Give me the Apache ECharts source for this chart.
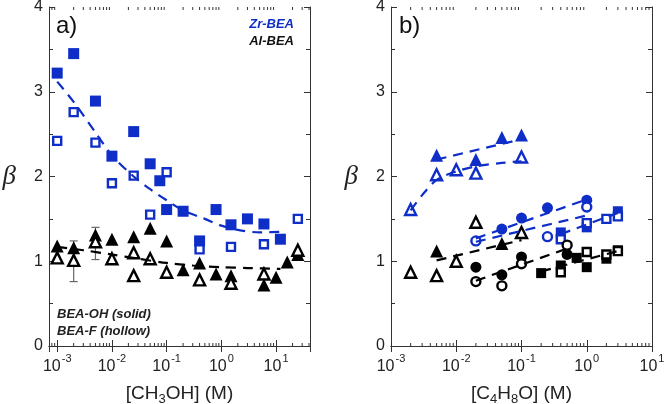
<!DOCTYPE html>
<html><head><meta charset="utf-8">
<script src="https://cdn.jsdelivr.net/npm/echarts@6/dist/echarts.min.js"></script>
<style>html,body{margin:0;padding:0;background:#fff}#c{width:664px;height:404px}</style>
</head><body><div id="c"></div>
<script>
// ---------- Panel a) : [CH3OH] ----------
const zrA_solid_x = [0.001,0.002,0.005,0.01,0.025,0.05,0.075,0.1,0.2,0.4,0.8,1.5,3,6,12];
const zrA_solid_y = [3.22,3.45,2.89,2.24,2.53,2.15,1.95,1.61,1.59,1.24,1.61,1.43,1.50,1.44,1.26];
const zrA_hollow_x = [0.001,0.002,0.005,0.01,0.025,0.05,0.1,0.4,1.5,6,25];
const zrA_hollow_y = [2.42,2.76,2.40,1.92,2.01,1.55,2.05,1.14,1.17,1.20,1.50];
const zrA_fit_x = [0.001,0.002,0.005,0.01,0.025,0.05,0.1,0.2,0.5,1,2,5,15];
const zrA_fit_y = [3.12,2.88,2.52,2.25,2.00,1.85,1.72,1.60,1.50,1.42,1.37,1.34,1.35];
const alA_solid_x = [0.001,0.002,0.005,0.01,0.025,0.05,0.1,0.2,0.4,0.8,1.5,6,10,16,25];
const alA_solid_y = [1.18,1.16,1.31,1.26,1.29,1.39,1.24,0.90,0.98,0.85,0.83,0.72,0.81,0.99,1.08];
const alA_hollow_x = [0.001,0.002,0.005,0.01,0.025,0.025,0.05,0.1,0.4,1.5,6,25];
const alA_hollow_y = [1.04,1.01,1.23,1.03,1.10,0.83,1.03,0.87,0.78,0.74,0.85,1.13];
const alA_err_x = [0.002,0.005];
const alA_err_lo = [0.76,1.02];
const alA_err_hi = [1.24,1.40];
const alA_fit_x = [0.001,0.003,0.01,0.03,0.1,0.3,1,3,12];
const alA_fit_y = [1.17,1.13,1.08,1.03,0.98,0.95,0.93,0.92,0.91];

// ---------- Panel b) : [C4H8O] ----------
const zrB_triS_x = [0.005,0.02,0.05,0.1];
const zrB_triS_y = [2.25,2.20,2.46,2.49];
const zrB_triH_x = [0.002,0.005,0.01,0.02,0.1];
const zrB_triH_y = [1.61,2.02,2.08,2.04,2.23];
const zrB_cirS_x = [0.05,0.1,0.25,1];
const zrB_cirS_y = [1.38,1.51,1.63,1.72];
const zrB_cirH_x = [0.02,0.25,1];
const zrB_cirH_y = [1.24,1.29,1.64];
const zrB_sqS_x = [0.4,1,3];
const zrB_sqS_y = [1.34,1.40,1.59];
const zrB_sqH_x = [0.4,1,2,3];
const zrB_sqH_y = [1.26,1.45,1.50,1.53];
const alB_triS_x = [0.005,0.05];
const alB_triS_y = [1.12,1.21];
const alB_triH_x = [0.002,0.005,0.01,0.02,0.1];
const alB_triH_y = [0.87,0.83,1.00,1.46,1.34];
const alB_cirS_x = [0.02,0.05,0.1,0.5];
const alB_cirS_y = [0.93,0.84,1.05,1.08];
const alB_cirH_x = [0.02,0.05,0.1,0.5];
const alB_cirH_y = [0.76,0.71,0.97,1.19];
const alB_sqS_x = [0.2,0.4,0.7,1,2,3];
const alB_sqS_y = [0.86,0.95,1.04,0.93,1.03,1.13];
const alB_sqH_x = [0.4,1,2,3];
const alB_sqH_y = [0.87,1.11,1.08,1.12];

const zrB_fitTriS_x = [0.005,0.1];            const zrB_fitTriS_y = [2.20,2.44];
const zrB_fitTriH_x = [0.002,0.003,0.005,0.01,0.02,0.05,0.1];
const zrB_fitTriH_y = [1.60,1.78,1.96,2.06,2.12,2.16,2.18];
const zrB_fitCirS_x = [0.02,1];               const zrB_fitCirS_y = [1.27,1.73];
const zrB_fitCirH_x = [0.02,1];               const zrB_fitCirH_y = [1.23,1.54];
const zrB_fitSq_x = [0.4,3];                  const zrB_fitSq_y = [1.32,1.57];
const alB_fitTri_x = [0.005,0.1];             const alB_fitTri_y = [1.01,1.25];
const alB_fitCir_x = [0.02,0.5];              const alB_fitCir_y = [0.77,1.15];
const alB_fitSq_x = [0.2,3];                  const alB_fitSq_y = [0.88,1.12];

// axis settings
const yTicks = [0,1,2,3,4];
const xRangeA = [0.000708, 41.7];
const xRangeB = [0.001, 10];
const decadesA = [-4,-3,-2,-1,0,1];
const decadesB = [-3,-2,-1,0];

const BLUE = '#0f2ec8';
const BLACK = '#000000';
const AXC = '#333333';
const FONT = 'Liberation Sans';

function zip(xs, ys){ return xs.map((x,i)=>[x, ys[i]]); }

function minorTickData(decades, range){
  const out = [];
  decades.forEach(d => { for (let m=2; m<=9; m++){ const v = m*Math.pow(10,d); if (v>range[0] && v<range[1]) out.push([v]); } });
  return out;
}

function expLabel(v){
  const e = Math.log10(v);
  const r = Math.round(e);
  if (Math.abs(e - r) > 0.01) return '';
  return '{b|10}{s|' + r + '}';
}

const tickRich = {
  b: {fontSize: 16, fontFamily: FONT, color: '#222', lineHeight: 22, verticalAlign: 'bottom'},
  s: {fontSize: 11, fontFamily: FONT, color: '#222', lineHeight: 12, verticalAlign: 'top', padding:[0,0,0,1]}
};

function xAxes(grid, range, name, pos){
  const bottom = pos === 'bottom';
  return {
    type: 'log', logBase: 10, gridIndex: grid, position: pos,
    min: range[0], max: range[1],
    axisLine: {show: true, lineStyle: {color: AXC, width: 1}},
    axisTick: {show: true, inside: true, length: 6, lineStyle: {color: AXC}},
    splitLine: {show: false},
    axisLabel: bottom ? {show: true, formatter: expLabel, rich: tickRich, margin: 7, showMinLabel: range[0]===0.001, showMaxLabel: range[1]===10} : {show: false},
    name: bottom ? name : '',
    nameLocation: 'middle', nameGap: 36,
    nameTextStyle: {fontSize: 19, fontFamily: FONT, color: '#222',
      rich: {n: {fontSize: 19, fontFamily: FONT, color:'#222', lineHeight: 24},
             sub: {fontSize: 13, fontFamily: FONT, color:'#222', lineHeight: 12, verticalAlign:'bottom'}}}
  };
}

function yAxes(grid, pos){
  const left = pos === 'left';
  return {
    type: 'value', gridIndex: grid, position: pos, min: yTicks[0], max: yTicks[yTicks.length-1], interval: 1,
    axisLine: {show: true, lineStyle: {color: AXC, width: 1}},
    axisTick: {show: true, inside: true, length: 6, lineStyle: {color: AXC}},
    minorTick: {show: true, splitNumber: 2, length: 4, lineStyle: {color: AXC}},
    splitLine: {show: false},
    axisLabel: left ? {show: true, fontSize: 16, fontFamily: FONT, color: '#222', margin: 6} : {show: false},
    name: left ? 'β' : '', nameLocation: 'middle', nameRotate: 0, nameGap: 33,
    nameTextStyle: {fontSize: 27, fontStyle: 'italic', fontFamily: 'Liberation Serif', color: '#222'}
  };
}

function sc(xi, xs, ys, symbol, size, color, hollow, rotate){
  return {
    type: 'scatter', xAxisIndex: xi, yAxisIndex: xi, data: zip(xs, ys),
    symbol: symbol, symbolSize: size, symbolRotate: rotate || 0,
    itemStyle: hollow ? {color: '#ffffff', borderColor: color, borderWidth: 2.4, opacity: 1}
                      : {color: color, borderWidth: 0, opacity: 1},
    z: hollow ? 4 : 3, silent: true, animation: false
  };
}

function fit(xi, xs, ys, color, smooth){
  return {
    type: 'line', xAxisIndex: xi, yAxisIndex: xi, data: zip(xs, ys),
    showSymbol: false, symbol: 'none', smooth: smooth ? 0.3 : false,
    lineStyle: {color: color, width: 2.2, type: [10, 7]}, z: 5, silent: true, animation: false
  };
}

function minorSeries(xi, decades, range){
  return {
    type: 'custom', xAxisIndex: xi, yAxisIndex: xi, data: minorTickData(decades, range),
    silent: true, animation: false, clip: false, z: 10,
    renderItem: function(params, api){
      const v = api.value(0);
      const pb = api.coord([v, yTicks[0]]);
      const pt = api.coord([v, yTicks[yTicks.length-1]]);
      const st = {stroke: AXC, lineWidth: 1};
      return {type: 'group', children: [
        {type: 'line', shape: {x1: pb[0], y1: pb[1], x2: pb[0], y2: pb[1]-3}, style: st},
        {type: 'line', shape: {x1: pt[0], y1: pt[1], x2: pt[0], y2: pt[1]+3}, style: st}
      ]};
    }
  };
}

function errSeries(xi, xs, lo, hi){
  return {
    type: 'custom', xAxisIndex: xi, yAxisIndex: xi, data: xs.map((x,i)=>[x, lo[i], hi[i]]),
    silent: true, animation: false, z: 2,
    renderItem: function(params, api){
      const a = api.coord([api.value(0), api.value(1)]);
      const b = api.coord([api.value(0), api.value(2)]);
      const st = {stroke: '#666', lineWidth: 1.2};
      return {type: 'group', children: [
        {type: 'line', shape: {x1: a[0], y1: a[1], x2: b[0], y2: b[1]}, style: st},
        {type: 'line', shape: {x1: a[0]-4, y1: a[1], x2: a[0]+4, y2: a[1]}, style: st},
        {type: 'line', shape: {x1: b[0]-4, y1: b[1], x2: b[0]+4, y2: b[1]}, style: st}
      ]};
    }
  };
}

const chart = echarts.init(document.getElementById('c'), null, {renderer: 'canvas'});

chart.setOption({
  animation: false,
  backgroundColor: '#ffffff',
  grid: [
    {left: 49, top: 7, width: 261, height: 339, containLabel: false, outerBoundsMode: 'none'},
    {left: 391, top: 7, width: 261, height: 339, containLabel: false, outerBoundsMode: 'none'}
  ],
  xAxis: [
    xAxes(0, xRangeA, '{n|[CH}{sub|3}{n|OH] (M)}', 'bottom'),
    xAxes(1, xRangeB, '{n|[C}{sub|4}{n|H}{sub|8}{n|O] (M)}', 'bottom'),
    xAxes(0, xRangeA, '', 'top'),
    xAxes(1, xRangeB, '', 'top')
  ],
  yAxis: [
    yAxes(0, 'left'),
    yAxes(1, 'left'),
    yAxes(0, 'right'),
    yAxes(1, 'right')
  ],
  series: [
    minorSeries(0, decadesA, xRangeA),
    minorSeries(1, decadesB, xRangeB),
    errSeries(0, alA_err_x, alA_err_lo, alA_err_hi),
    // panel a
    sc(0, zrA_solid_x, zrA_solid_y, 'rect', 11, BLUE, false),
    sc(0, zrA_hollow_x, zrA_hollow_y, 'rect', 8, BLUE, true),
    sc(0, alA_solid_x, alA_solid_y, 'triangle', 13, BLACK, false),
    sc(0, alA_hollow_x, alA_hollow_y, 'triangle', 11, BLACK, true),
    fit(0, zrA_fit_x, zrA_fit_y, BLUE, true),
    fit(0, alA_fit_x, alA_fit_y, BLACK, true),
    // panel b
    sc(1, zrB_triS_x, zrB_triS_y, 'triangle', 13, BLUE, false),
    sc(1, zrB_triH_x, zrB_triH_y, 'triangle', 11, BLUE, true),
    sc(1, zrB_cirS_x, zrB_cirS_y, 'circle', 11, BLUE, false),
    sc(1, zrB_cirH_x, zrB_cirH_y, 'circle', 9, BLUE, true),
    sc(1, zrB_sqS_x, zrB_sqS_y, 'rect', 10, BLUE, false),
    sc(1, zrB_sqH_x, zrB_sqH_y, 'rect', 8, BLUE, true),
    sc(1, alB_triS_x, alB_triS_y, 'triangle', 13, BLACK, false),
    sc(1, alB_triH_x, alB_triH_y, 'triangle', 11, BLACK, true),
    sc(1, alB_cirS_x, alB_cirS_y, 'circle', 11, BLACK, false),
    sc(1, alB_cirH_x, alB_cirH_y, 'circle', 9, BLACK, true),
    sc(1, alB_sqS_x, alB_sqS_y, 'rect', 10, BLACK, false),
    sc(1, alB_sqH_x, alB_sqH_y, 'rect', 8, BLACK, true),
    fit(1, zrB_fitTriS_x, zrB_fitTriS_y, BLUE, false),
    fit(1, zrB_fitTriH_x, zrB_fitTriH_y, BLUE, true),
    fit(1, zrB_fitCirS_x, zrB_fitCirS_y, BLUE, false),
    fit(1, zrB_fitCirH_x, zrB_fitCirH_y, BLUE, false),
    fit(1, zrB_fitSq_x, zrB_fitSq_y, BLUE, false),
    fit(1, alB_fitTri_x, alB_fitTri_y, BLACK, false),
    fit(1, alB_fitCir_x, alB_fitCir_y, BLACK, false),
    fit(1, alB_fitSq_x, alB_fitSq_y, BLACK, false)
  ],
  graphic: [
    {type: 'text', left: 56, top: 14, style: {text: 'a)', fill: '#111', font: '24px "Liberation Sans"'}},
    {type: 'text', left: 399, top: 14, style: {text: 'b)', fill: '#111', font: '24px "Liberation Sans"'}},
    {type: 'text', right: 370, top: 18, style: {text: 'Zr-BEA', fill: BLUE, font: 'italic bold 13px "Liberation Sans"'}},
    {type: 'text', right: 370, top: 35, style: {text: 'Al-BEA', fill: '#111', font: 'italic bold 13px "Liberation Sans"'}},
    {type: 'text', left: 57, top: 308, style: {text: 'BEA-OH (solid)', fill: '#222', font: 'italic bold 13px "Liberation Sans"'}},
    {type: 'text', left: 57, top: 325, style: {text: 'BEA-F (hollow)', fill: '#222', font: 'italic bold 13px "Liberation Sans"'}}
  ]
});
</script>
</body></html>
